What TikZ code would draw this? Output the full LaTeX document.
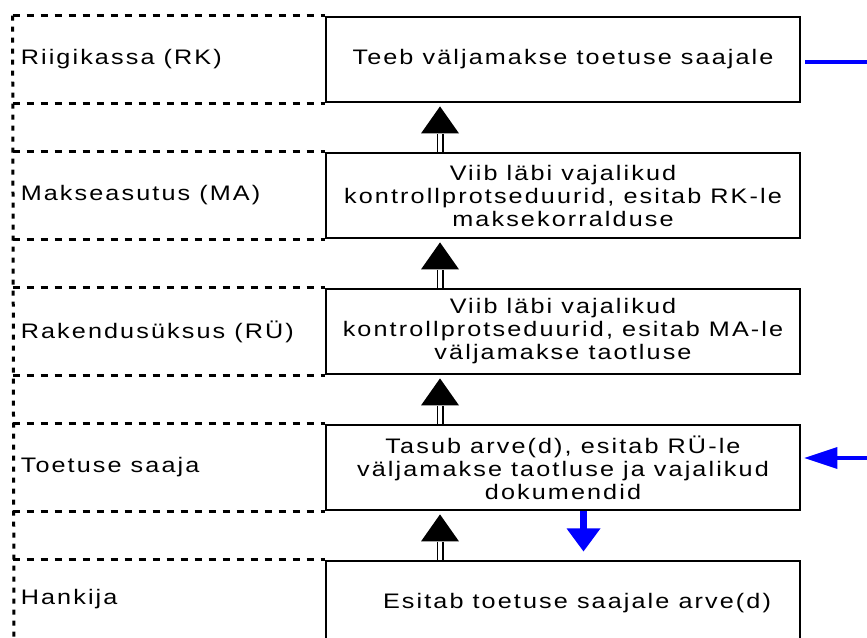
\documentclass[tikz,border=0pt]{standalone}
\usepackage{fontspec}
\usetikzlibrary{calc}
\newfontfamily\lblfont{Liberation Sans}[FakeStretch=1.2, LetterSpace=10]
\definecolor{flowblue}{RGB}{0,0,255}

\begin{document}
\begin{tikzpicture}[x=1pt,y=-1pt,
  txt/.style={font=\lblfont\fontsize{21}{23}\selectfont},
  stepbox/.style={txt, draw, line width=2.8pt, minimum width=474pt,
    minimum height=85pt, align=center, inner sep=0pt},
  lanelabel/.style={txt, anchor=west, inner sep=0pt},
  lanedash/.style={line width=2.8pt, dash pattern=on 7.5pt off 6.5pt},
  sidedash/.style={line width=3pt, dash pattern=on 5pt off 6pt},
  dblshaft/.style={double, line width=1.7pt, double distance=3.6pt},
  bluebar/.style={flowblue, line width=4.3pt},
]
\useasboundingbox (0,0) rectangle (867,637);
\clip (0,0) rectangle (867,637);

% process steps, one per swimlane
\node[stepbox] (rk) at (563,59.5)  {Teeb väljamakse toetuse saajale};
\node[stepbox] (ma) at (563,195.5) {Viib läbi vajalikud\\kontrollprotseduurid, esitab RK-le\\maksekorralduse};
\node[stepbox] (ru) at (563,331.5) {Viib läbi vajalikud\\kontrollprotseduurid, esitab MA-le\\väljamakse taotluse};
\node[stepbox] (ts) at (563,467.5) {Tasub arve(d), esitab RÜ-le\\väljamakse taotluse ja vajalikud\\dokumendid};
\node[stepbox] (hk) at (563,603.5) {\hspace*{28pt}Esitab toetuse saajale arve(d)};

% swimlane labels
\node[lanelabel] (lrk) at ([xshift=-304pt]rk.west) {Riigikassa (RK)};
\node[lanelabel] (lma) at ([xshift=-304pt]ma.west) {Makseasutus (MA)};
\node[lanelabel] (lru) at ([xshift=-304pt]ru.west) {Rakendusüksus (RÜ)};
\node[lanelabel] (lts) at ([xshift=-304pt]ts.west) {Toetuse saaja};
\node[lanelabel] (lhk) at ([xshift=-304pt,yshift=4pt]hk.west) {Hankija};

% dashed swimlane borders
\foreach \b in {rk,ma,ru,ts,hk}{
  \draw[lanedash] ([xshift=-312pt]\b.north west) -- (\b.north west);
  \draw[lanedash] ([xshift=-312pt]\b.south west) -- (\b.south west);
}
\coordinate (sidetop) at ([xshift=-312pt]rk.north west);
\coordinate (sidebot) at (14,637);
\draw[sidedash] (sidetop) -- (sidebot);

% upward hand-over arrows
\foreach \lo/\up in {ma/rk, ru/ma, ts/ru, hk/ts}{
  \coordinate (tip-\up) at ($(\up.south)+(-123,3)$);
  \draw[dblshaft] ($(\lo.north)+(-123,0)$) -- ($(tip-\up)+(0,28)$);
  \fill (tip-\up) -- ++(-19,27) -- ++(38,0) -- cycle;
}

% payment out of the treasury
\coordinate (rkout) at (867,62);
\draw[bluebar] ($(rk.east)+(4,2.5)$) -- (rkout);

% incoming support to the beneficiary
\coordinate (tsin) at (867,458);
\coordinate (tsintip) at ($(ts.east)+(3,-9.5)$);
\draw[bluebar] (tsin) -- ($(tsintip)+(32,0)$);
\fill[flowblue] (tsintip) -- ++(33,-11) -- ++(0,22) -- cycle;

% payment to the supplier
\coordinate (hkpay) at ($(ts.south)+(20.5,40)$);
\draw[flowblue, line width=6.5pt] ($(ts.south)+(20.5,0)$) -- ($(hkpay)+(0,-22)$);
\fill[flowblue] (hkpay) -- ++(-17,-23) -- ++(34,0) -- cycle;
\end{tikzpicture}
\end{document}
